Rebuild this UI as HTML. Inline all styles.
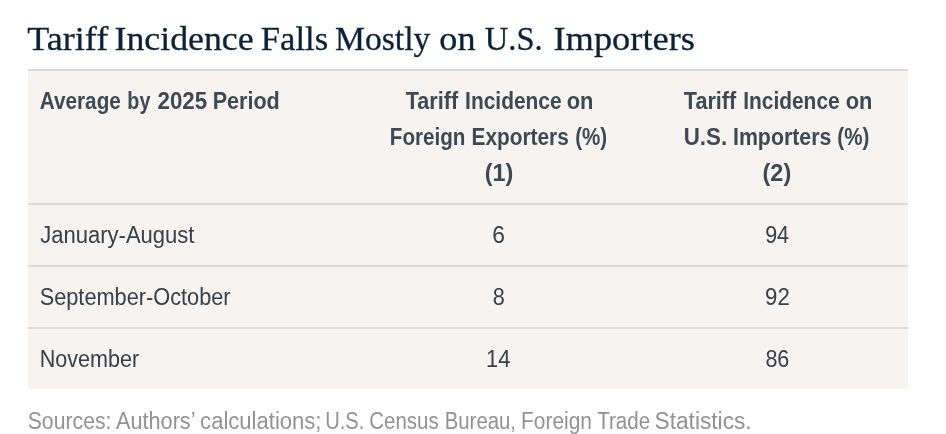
<!DOCTYPE html>
<html lang="en">
<head>
<meta charset="utf-8">
<title>Tariff Incidence Falls Mostly on U.S. Importers</title>
<style>
  html, body { margin: 0; padding: 0; background: #ffffff; }
  body { width: 946px; height: 434px; position: relative; overflow: hidden;
         font-family: "Liberation Sans", sans-serif; }
  .w { display: inline-block; white-space: nowrap; transform-origin: 0 50%; }
  h1 { position: absolute; left: 28px; top: 18.6px; margin: 0; font-weight: normal;
       font-family: "Liberation Serif", serif; font-size: 33.7px; line-height: 40px;
       color: #0b2239; white-space: nowrap; -webkit-text-stroke: 0.3px #0b2239; }
  table { position: absolute; left: 28px; top: 69px; width: 880px; border-collapse: collapse;
          table-layout: fixed; background: #f6f3f0; color: #384047;
          font-size: 23px; line-height: 36px; }
  col.c1 { width: 323px; } col.c2 { width: 296px; } col.c3 { width: 261px; }
  th, td { padding: 12px 0; border-top: 2px solid #dcd9d7; text-align: center;
           vertical-align: top; font-weight: normal; white-space: nowrap; }
  thead th { border-top-color: #d6d6d6; font-weight: bold; color: #3e4953; }
  th:first-child, td:first-child { text-align: left; padding-left: 12px; }
  p { position: absolute; left: 28px; top: 403px; margin: 0; font-size: 23px; line-height: 36px;
      color: #929292; white-space: nowrap; }
</style>
</head>
<body>
<h1><span class="w" style="transform:translateX(-0.66px) scaleX(1.0702)">Tariff</span> <span class="w" style="transform:translateX(2.47px) scaleX(1.0629)">Incidence</span> <span class="w" style="transform:translateX(9.85px) scaleX(1.0271)">Falls</span> <span class="w" style="transform:translateX(10.02px) scaleX(0.9980)">Mostly</span> <span class="w" style="transform:translateX(10.36px) scaleX(1.0746)">on</span> <span class="w" style="transform:translateX(13.83px) scaleX(0.9649)">U.S.</span> <span class="w" style="transform:translateX(13.49px) scaleX(1.0799)">Importers</span></h1>
<table>
  <colgroup><col class="c1"><col class="c2"><col class="c3"></colgroup>
  <thead>
    <tr>
      <th><span class="w" style="transform:translateX(-0.28px) scaleX(0.9023)">Average</span> <span class="w" style="transform:translateX(-8.66px) scaleX(0.8584)">by</span> <span class="w" style="transform:translateX(-12.54px) scaleX(0.9708)">2025</span> <span class="w" style="transform:translateX(-14.37px) scaleX(0.9377)">Period</span></th>
      <th><span class="w" style="transform:translateX(7.74px) scaleX(0.9397)">Tariff</span> <span class="w" style="transform:translateX(5.12px) scaleX(0.9088)">Incidence</span> <span class="w" style="transform:translateX(-5.37px) scaleX(0.9504)">on</span><br><span class="w" style="transform:translateX(10.86px) scaleX(0.8965)">Foreign</span> <span class="w" style="transform:translateX(1.51px) scaleX(0.9052)">Exporters</span> <span class="w" style="transform:translateX(-7.81px) scaleX(0.8948)">(%)</span><br><span class="w" style="transform:translateX(-0.24px) scaleX(1.0185)">(1)</span></th>
      <th><span class="w" style="transform:translateX(7.84px) scaleX(0.9397)">Tariff</span> <span class="w" style="transform:translateX(5.22px) scaleX(0.9088)">Incidence</span> <span class="w" style="transform:translateX(-5.27px) scaleX(0.9504)">on</span><br><span class="w" style="transform:translateX(5.76px) scaleX(0.9695)">U.S.</span> <span class="w" style="transform:translateX(3.95px) scaleX(0.9276)">Importers</span> <span class="w" style="transform:translateX(-3.66px) scaleX(0.8978)">(%)</span><br><span class="w" style="transform:translateX(-0.44px) scaleX(1.0185)">(2)</span></th>
    </tr>
  </thead>
  <tbody>
    <tr><td><span class="w" style="transform:translateX(0.17px) scaleX(0.9579)">January-August</span></td><td><span class="w" style="transform:translateX(-0.82px) scaleX(0.9929)">6</span></td><td><span class="w" style="transform:translateX(0.13px) scaleX(0.9360)">94</span></td></tr>
    <tr><td><span class="w" style="transform:translateX(-0.31px) scaleX(0.9449)">September-October</span></td><td><span class="w" style="transform:translateX(-0.20px) scaleX(0.9396)">8</span></td><td><span class="w" style="transform:translateX(0.10px) scaleX(0.9636)">92</span></td></tr>
    <tr><td><span class="w" style="transform:translateX(-0.27px) scaleX(0.9377)">November</span></td><td><span class="w" style="transform:translateX(0.12px) scaleX(0.9565)">14</span></td><td><span class="w" style="transform:translateX(0.39px) scaleX(0.9361)">86</span></td></tr>
  </tbody>
</table>
<p><span class="w" style="transform:translateX(-0.28px) scaleX(0.9225)">Sources:</span> <span class="w" style="transform:translateX(-9.00px) scaleX(0.9424)">Authors’</span> <span class="w" style="transform:translateX(-15.88px) scaleX(0.9590)">calculations;</span> <span class="w" style="transform:translateX(-23.85px) scaleX(0.8760)">U.S.</span> <span class="w" style="transform:translateX(-30.70px) scaleX(0.8895)">Census</span> <span class="w" style="transform:translateX(-39.26px) scaleX(0.8843)">Bureau,</span> <span class="w" style="transform:translateX(-49.96px) scaleX(0.9083)">Foreign</span> <span class="w" style="transform:translateX(-58.79px) scaleX(0.8942)">Trade</span> <span class="w" style="transform:translateX(-66.51px) scaleX(0.9873)">Statistics.</span></p>
</body>
</html>
